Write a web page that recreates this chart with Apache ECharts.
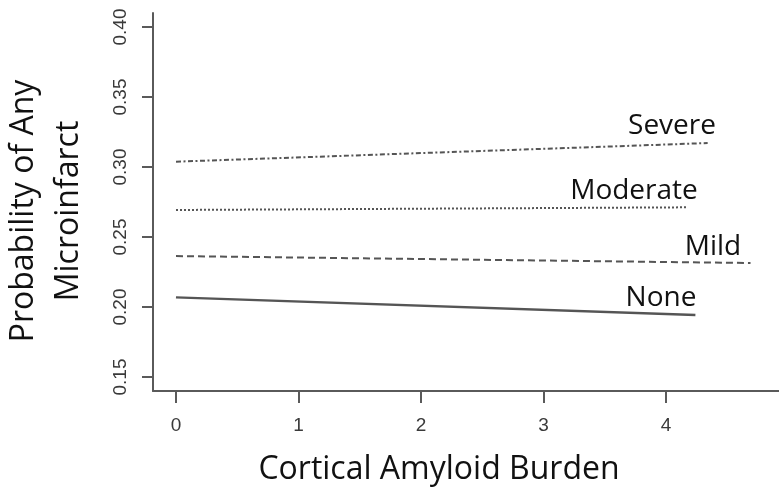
<!DOCTYPE html>
<html>
<head>
<meta charset="utf-8">
<script src="https://cdn.jsdelivr.net/npm/echarts@6/dist/echarts.min.js"></script>
<style>
  html, body { margin: 0; padding: 0; background: #ffffff; }
  #chart { width: 779px; height: 491px; }
</style>
</head>
<body>
<div id="chart"></div>
<script>
// Predicted probability of any microinfarct by cortical amyloid burden,
// one line per CAA severity group (fitted lines, start and end points).
const burdenTicks = [0, 1, 2, 3, 4];
const probTicks = [0.15, 0.20, 0.25, 0.30, 0.35, 0.40];

const severeLine   = [[0, 0.3038], [4.34, 0.3171]];
const moderateLine = [[0, 0.2693], [4.17, 0.2712]];
const mildLine     = [[0, 0.2364], [4.69, 0.2314]];
const noneLine     = [[0, 0.2069], [4.24, 0.1943]];

const groupNames = ['Severe', 'Moderate', 'Mild', 'None'];

const axisGrey = '#5a5a5a';
const lineGrey = '#555555';
const titleFont = '"Open Sans", Lato, sans-serif';

const chart = echarts.init(document.getElementById('chart'), null, { renderer: 'canvas' });

function lineSeries(name, data, type, dash) {
  return {
    name: name,
    type: 'line',
    data: data,
    symbol: 'none',
    silent: true,
    lineStyle: {
      color: lineGrey,
      width: type === 'solid' ? 2.4 : 2,
      type: dash || type,
      cap: 'butt'
    }
  };
}

function groupLabel(text, x, y) {
  return {
    type: 'text',
    style: {
      text: text, x: x, y: y, align: 'center', verticalAlign: 'middle',
      fontFamily: titleFont, fontSize: 28, fill: '#111111'
    }
  };
}

chart.setOption({
  animation: false,
  backgroundColor: '#ffffff',
  grid: { left: 153, right: 0, top: 13, bottom: 100 },
  xAxis: {
    type: 'value',
    min: -23 / 122.5,
    max: -23 / 122.5 + 626 / 122.5,
    splitLine: { show: false },
    axisLine: { show: true, onZero: false, lineStyle: { color: axisGrey, width: 2 } },
    axisTick: {
      show: true, length: 12, customValues: burdenTicks,
      lineStyle: { color: axisGrey, width: 2 }
    },
    axisLabel: {
      customValues: burdenTicks, margin: 25,
      fontFamily: 'Liberation Sans', fontSize: 19, color: '#3a3a3a',
      formatter: v => String(v)
    }
  },
  yAxis: {
    type: 'value',
    min: 0.14,
    max: 0.41,
    splitLine: { show: false },
    axisLine: { show: true, onZero: false, lineStyle: { color: axisGrey, width: 2 } },
    axisTick: {
      show: true, length: 11, customValues: probTicks,
      lineStyle: { color: axisGrey, width: 2 }
    },
    axisLabel: {
      customValues: probTicks, margin: 23, rotate: 90,
      fontFamily: 'Liberation Sans', fontSize: 19, color: '#3a3a3a',
      formatter: v => v.toFixed(2)
    }
  },
  series: [
    lineSeries(groupNames[0], severeLine, 'dashed', [5, 2.5, 2, 2.5]),
    lineSeries(groupNames[1], moderateLine, 'dotted', [2, 2]),
    lineSeries(groupNames[2], mildLine, 'dashed', [7, 4]),
    lineSeries(groupNames[3], noneLine, 'solid')
  ],
  graphic: [
    {
      type: 'text',
      style: {
        text: 'Cortical Amyloid Burden', x: 439, y: 470,
        align: 'center', verticalAlign: 'middle',
        fontFamily: titleFont, fontSize: 32, fill: '#111111'
      }
    },
    {
      type: 'text', x: 46, y: 211, rotation: Math.PI / 2,
      style: {
        text: 'Probability of Any\nMicroinfarct',
        align: 'center', verticalAlign: 'middle', lineHeight: 45,
        fontFamily: titleFont, fontSize: 32, fill: '#111111'
      }
    },
    groupLabel(groupNames[0], 672, 126),
    groupLabel(groupNames[1], 634, 191),
    groupLabel(groupNames[2], 713, 247),
    groupLabel(groupNames[3], 661, 298)
  ]
});
</script>
</body>
</html>
